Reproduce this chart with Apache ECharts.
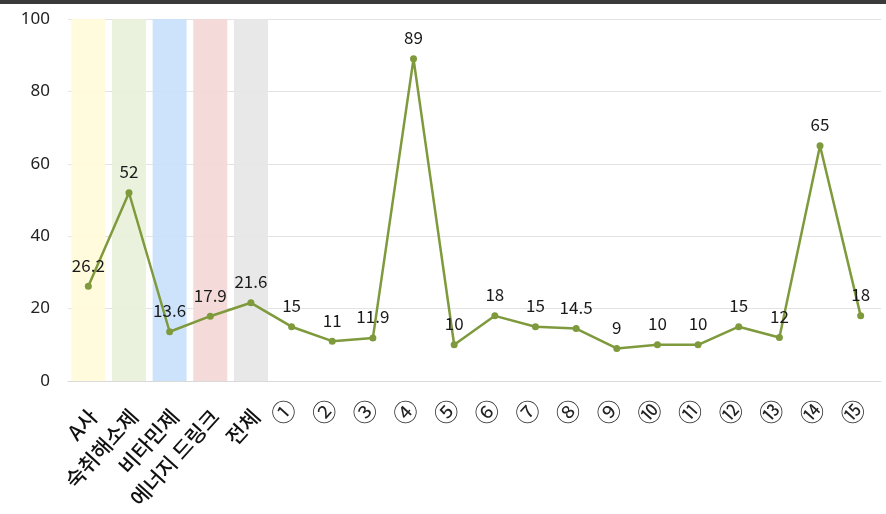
<!DOCTYPE html>
<html><head><meta charset="utf-8">
<script src="https://cdn.jsdelivr.net/npm/echarts@6/dist/echarts.min.js"></script>
<style>html,body{margin:0;padding:0;background:#fff}#c{width:886px;height:514px}</style>
</head><body><div id="c"></div>
<script>
const categories = ["A사","숙취해소제","비타민제","에너지 드링크","전체","①","②","③","④","⑤","⑥","⑦","⑧","⑨","⑩","⑪","⑫","⑬","⑭","⑮"];
const values = [26.2,52,13.6,17.9,21.6,15,11,11.9,89,10,18,15,14.5,9,10,10,15,12,65,18];
const bandValues = [100,100,100,100,100];
const bandColors = ["#FFFBD8","#E8F1DA","#C8E0FB","#F3D7D6","#E6E6E6"];
const yTicks = [0,20,40,60,80,100];

const chart = echarts.init(document.getElementById('c'));
const bandData = categories.map((c,i)=> i < bandValues.length ? {value: bandValues[i], itemStyle:{color: bandColors[i]}} : null);
chart.setOption({
  animation:false,
  graphic:[{type:'rect', shape:{x:0,y:0,width:886,height:4}, style:{fill:'#3a3a3a'}}],
  grid:{left:68,right:5,top:19,bottom:133},
  xAxis:{type:'category',data:categories,
    axisLine:{lineStyle:{color:'#d9d9d9'}},axisTick:{show:false},
    axisLabel:{rotate:48,interval:0,margin:22,color:'#111',
      formatter:(v,i)=> i < 5 ? '{k|'+v+'}' : '{c|'+v+'}',
      rich:{
        k:{fontSize:21,fontWeight:500,color:'#111',padding:[20,4,0,0],fontFamily:'"Noto Sans CJK KR", sans-serif'},
        c:{fontSize:24,color:'#222',fontFamily:'"Noto Sans CJK KR", sans-serif'}
      }}},
  yAxis:{type:'value',min:0,max:100,interval:20,
    axisLabel:{fontSize:17,color:'#222',margin:18,fontFamily:'"Noto Sans", sans-serif'},
    splitLine:{lineStyle:{color:'#e3e3e3'}}},
  series:[
    {type:'bar',data:bandData,barWidth:34,silent:true,z:1,itemStyle:{opacity:0.9}},
    {type:'line',data:values,z:3,color:'#7E9A3C',
      lineStyle:{width:2.5,color:'#7E9A3C'},symbol:'circle',symbolSize:7,
      itemStyle:{color:'#7E9A3C'},
      label:{show:true,position:'top',distance:9,fontSize:17,color:'#1a1a1a',fontFamily:'"Noto Sans CJK KR", sans-serif'}}
  ]
});
</script></body></html>
